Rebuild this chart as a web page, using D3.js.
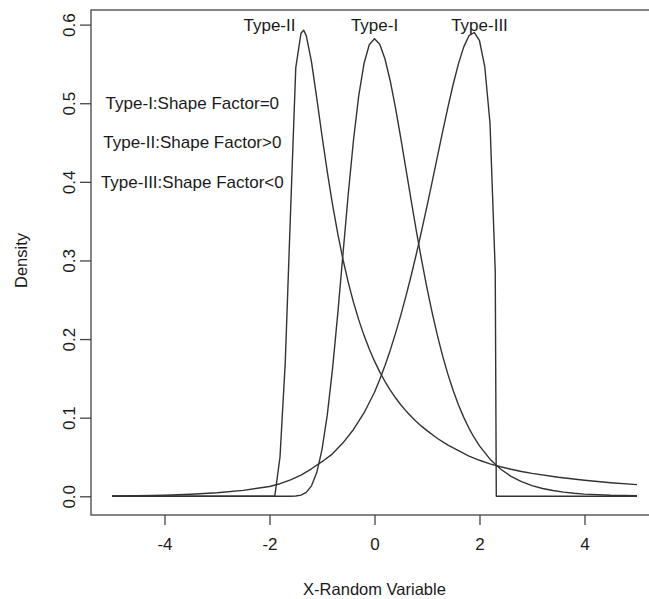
<!DOCTYPE html>
<html>
<head>
<meta charset="utf-8">
<script src="https://cdn.jsdelivr.net/npm/d3@7"></script>
<style>
  body { margin: 0; background: #fff; }
  svg { display: block; font-family: "Liberation Sans", Arial, sans-serif; }
</style>
</head>
<body>
<script>
// density curves
var typeIx = [-5, -1.6, -1.5, -1.4, -1.3, -1.2, -1.1, -1.0, -0.9, -0.8, -0.7, -0.6, -0.5, -0.4, -0.3, -0.2, -0.1, 0,
  0.1, 0.2, 0.3, 0.4, 0.5, 0.6, 0.7, 0.8, 0.9, 1.0, 1.1, 1.2, 1.3, 1.4, 1.5, 1.6, 1.7, 1.8, 1.9, 2.0,
  2.2, 2.4, 2.6, 2.8, 3.0, 3.2, 3.4, 3.6, 3.8, 4.0, 4.5, 5.0];
var typeIy = [0, 0, 0.0004, 0.0015, 0.005, 0.0133, 0.0302, 0.0593, 0.1032, 0.1618, 0.2321, 0.3085, 0.3845, 0.4533, 0.5097, 0.5505, 0.5744, 0.5821,
  0.5751, 0.5563, 0.5283, 0.4940, 0.4559, 0.4158, 0.3757, 0.3365, 0.2994, 0.2647, 0.2329, 0.2041, 0.1780, 0.1548, 0.1343, 0.1162, 0.1004, 0.0865, 0.0745, 0.0641,
  0.0472, 0.0347, 0.0254, 0.0186, 0.0136, 0.0099, 0.0073, 0.0053, 0.0039, 0.0028, 0.0013, 0.0006];

var typeIIx = [-5, -1.9, -1.8, -1.7, -1.6, -1.5, -1.4, -1.35, -1.3, -1.2, -1.1, -1.0, -0.9, -0.8, -0.7, -0.6, -0.5, -0.4, -0.3, -0.2, -0.1, 0,
  0.1, 0.2, 0.3, 0.4, 0.5, 0.6, 0.7, 0.8, 0.9, 1.0, 1.2, 1.4, 1.6, 1.8, 2.0, 2.2, 2.4, 2.6, 2.8, 3.0, 3.5, 4.0, 4.5, 5.0];
var typeIIy = [0, 0, 0.05, 0.17, 0.36, 0.545, 0.589, 0.593, 0.586, 0.5525, 0.5066, 0.4586, 0.4129, 0.3712, 0.3340, 0.3012, 0.2722, 0.2467, 0.2244, 0.2047, 0.1873, 0.1719,
  0.1582, 0.1460, 0.1351, 0.1253, 0.1165, 0.1086, 0.1014, 0.0949, 0.0889, 0.0835, 0.0735, 0.065, 0.058, 0.051, 0.0458, 0.0413, 0.0376, 0.0344, 0.0316, 0.0292, 0.0242, 0.0204, 0.0173, 0.0149];

var typeIIIx = [-5, -4.5, -4, -3.5, -3, -2.5, -2, -1.8, -1.6, -1.4, -1.2, -1.0, -0.8, -0.6, -0.4, -0.2, 0,
  0.1, 0.2, 0.3, 0.4, 0.5, 0.6, 0.7, 0.8, 0.9, 1.0, 1.1, 1.2, 1.3, 1.4, 1.5, 1.6, 1.7, 1.8, 1.9, 2.0,
  2.1, 2.2, 2.3, 2.32, 5];
var typeIIIy = [0.0003, 0.0007, 0.0014, 0.0026, 0.0045, 0.0075, 0.0125, 0.016, 0.021, 0.027, 0.035, 0.044, 0.054, 0.068, 0.085, 0.106, 0.1323,
  0.1485, 0.1664, 0.1859, 0.2072, 0.2301, 0.2549, 0.2812, 0.3092, 0.3385, 0.3692, 0.4006, 0.4326, 0.4645, 0.4953, 0.5245, 0.5504, 0.5717, 0.5859, 0.5900, 0.5795,
  0.5467, 0.4746, 0.2860, 0, 0];

var xTicks = [-4, -2, 0, 2, 4];
var yTicks = [0, 0.1, 0.2, 0.3, 0.4, 0.5, 0.6];
var peakLabels = ["Type-II", "Type-I", "Type-III"];
var peakLabelX = [-2, 0, 2];
var noteLabels = ["Type-I:Shape Factor=0", "Type-II:Shape Factor>0", "Type-III:Shape Factor<0"];
var noteY = [0.5, 0.45, 0.4];

var width = 649,
    height = 599;
var margin = {top: 10, right: -9, bottom: 84, left: 91};

var svg = d3.select("body")
      .append("svg")
      .attr("width", width)
      .attr("height", height);

// R pads the data range by 4% on each side
var xScale = d3.scaleLinear()
      .domain([-5.4, 5.4])
      .range([margin.left, width - margin.right]);
var yScale = d3.scaleLinear()
      .domain([-0.0238, 0.6186])
      .range([height - margin.bottom, margin.top]);

var ink = "#333",
    textInk = "#1a1a1a";

svg.append("rect")
    .attr("x", margin.left)
    .attr("y", margin.top)
    .attr("width", width - margin.right - margin.left)
    .attr("height", height - margin.bottom - margin.top)
    .attr("fill", "none")
    .attr("stroke", "#444")
    .attr("stroke-width", 1.3);

// plain hyphen for negatives, like R
var xAxis = svg.append("g")
    .attr("transform", `translate(0, ${height - margin.bottom})`)
    .call(d3.axisBottom(xScale).tickValues(xTicks).tickSize(10).tickPadding(13).tickFormat(d => String(d)));
var yAxis = svg.append("g")
    .attr("transform", `translate(${margin.left}, 0)`)
    .call(d3.axisLeft(yScale).tickValues(yTicks).tickSize(11).tickPadding(0).tickFormat(d => d.toFixed(1)));

[xAxis, yAxis].forEach(function(ax) {
  ax.select(".domain").remove();
  ax.selectAll("line").attr("stroke", "#444").attr("stroke-width", 1.3);
  ax.selectAll("text")
    .attr("fill", textInk)
    .style("font-size", "17px")
    .style("font-family", '"Liberation Sans", Arial, sans-serif');
});

// y labels are turned like in base R
yAxis.selectAll(".tick text")
    .attr("transform", "translate(-22, 0) rotate(-90)")
    .attr("x", 0)
    .attr("dy", "0.35em")
    .attr("text-anchor", "middle");

svg.append("text")
    .attr("x", xScale(0))
    .attr("y", 595)
    .attr("text-anchor", "middle")
    .attr("fill", textInk)
    .style("font-size", "16.5px")
    .text("X-Random Variable");

svg.append("text")
    .attr("transform", `translate(27, ${yScale(0.3)}) rotate(-90)`)
    .attr("text-anchor", "middle")
    .attr("fill", textInk)
    .style("font-size", "16.5px")
    .text("Density");

var line = d3.line()
    .x(d => xScale(d[0]))
    .y(d => yScale(d[1]));

var series = [
  d3.zip(typeIx, typeIy),
  d3.zip(typeIIx, typeIIy),
  d3.zip(typeIIIx, typeIIIy)
];

svg.append("g")
  .selectAll("path")
  .data(series)
  .enter().append("path")
    .attr("d", line)
    .attr("fill", "none")
    .attr("stroke", ink)
    .attr("stroke-width", 1.4)
    .attr("stroke-linejoin", "round");

svg.append("g")
  .selectAll("text")
  .data(peakLabels)
  .enter().append("text")
    .attr("x", (d, i) => xScale(peakLabelX[i]))
    .attr("y", yScale(0.6))
    .attr("dy", "0.35em")
    .attr("text-anchor", "middle")
    .attr("fill", textInk)
    .style("font-size", "17px")
    .text(d => d);

svg.append("g")
  .selectAll("text")
  .data(noteLabels)
  .enter().append("text")
    .attr("x", xScale(-3.47))
    .attr("y", (d, i) => yScale(noteY[i]))
    .attr("dy", "0.35em")
    .attr("text-anchor", "middle")
    .attr("fill", textInk)
    .style("font-size", "17px")
    .text(d => d);
</script>
</body>
</html>
